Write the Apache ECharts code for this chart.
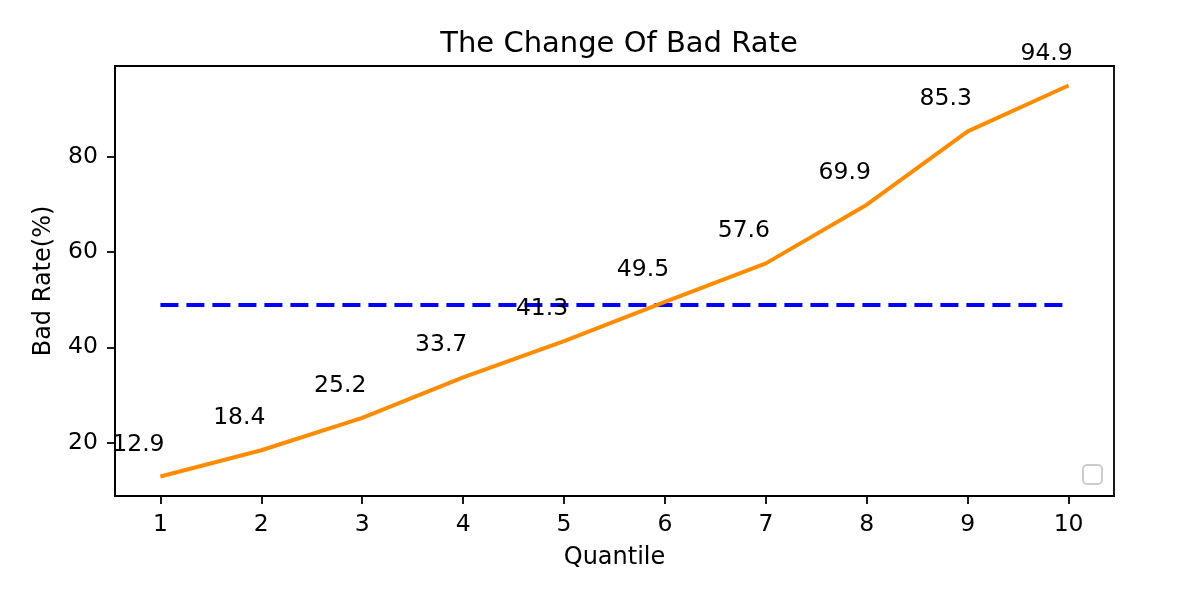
<!DOCTYPE html>
<html>
<head>
<meta charset="utf-8">
<script src="https://cdn.jsdelivr.net/npm/echarts@6/dist/echarts.min.js"></script>
<style>html,body{margin:0;padding:0;background:#fff}#c{width:1180px;height:589px}</style>
</head>
<body>
<div id="c"></div>
<script>
const quantiles = [1, 2, 3, 4, 5, 6, 7, 8, 9, 10];
const badRate = [12.9, 18.4, 25.2, 33.7, 41.3, 49.5, 57.6, 69.9, 85.3, 94.9];
const meanRate = [48.87, 48.87];
const meanX = [1, 10];
const xTicks = [1, 2, 3, 4, 5, 6, 7, 8, 9, 10];
const yTicks = [20, 40, 60, 80];

const font = 'DejaVu Sans';
const chart = echarts.init(document.getElementById('c'), null, {renderer: 'canvas'});
chart.setOption({
  backgroundColor: '#fff',
  animation: false,
  title: {
    text: 'The Change Of Bad Rate',
    left: 614, top: 25, textAlign: 'center',
    textStyle: {fontFamily: font, fontSize: 29, fontWeight: 'normal', color: '#000'}
  },
  grid: {left: 115, top: 66, right: 66, bottom: 93, show: true, borderColor: '#000', borderWidth: 1.8, backgroundColor: 'transparent'},
  xAxis: {
    type: 'value', min: 0.55, max: 10.45,
    name: 'Quantile', nameLocation: 'middle', nameGap: 50,
    nameTextStyle: {fontFamily: font, fontSize: 24, color: '#000'},
    axisLine: {show: true, lineStyle: {color: '#000', width: 1.8}},
    axisTick: {show: true, length: 8, lineStyle: {color: '#000', width: 1.8}, customValues: xTicks},
    axisLabel: {fontFamily: font, fontSize: 23.5, color: '#000', margin: 17, customValues: xTicks},
    splitLine: {show: false}
  },
  yAxis: {
    type: 'value', min: 8.8, max: 99.0,
    name: 'Bad Rate(%)', nameLocation: 'middle', nameGap: 59, nameRotate: 90,
    nameTextStyle: {fontFamily: font, fontSize: 24, color: '#000'},
    axisLine: {show: true, lineStyle: {color: '#000', width: 1.8}},
    axisTick: {show: true, length: 8, lineStyle: {color: '#000', width: 1.8}, customValues: yTicks},
    axisLabel: {fontFamily: font, fontSize: 23.5, color: '#000', margin: 17, customValues: yTicks},
    splitLine: {show: false}
  },
  series: [
    {
      type: 'line',
      data: meanX.map((x, i) => [x, meanRate[i]]),
      symbol: 'none',
      lineStyle: {color: '#0000ff', width: 4, type: [18, 8]},
      z: 2
    },
    {
      type: 'line',
      data: quantiles.map((q, i) => [q, badRate[i]]),
      symbol: 'circle', symbolSize: 1, showSymbol: true,
      itemStyle: {color: 'rgba(0,0,0,0)'},
      lineStyle: {color: '#ff8c00', width: 4},
      label: {
        show: true, position: 'inside', offset: [-22, -32],
        fontFamily: font, fontSize: 23.5, color: '#000',
        formatter: p => p.value[1].toFixed(1)
      },
      z: 3
    }
  ],
  graphic: [
    {type: 'rect', shape: {x: 1083, y: 465, width: 19, height: 19, r: 4}, style: {fill: '#fff', stroke: '#cccccc', lineWidth: 2}, z: 10}
  ]
});
</script>
</body>
</html>
